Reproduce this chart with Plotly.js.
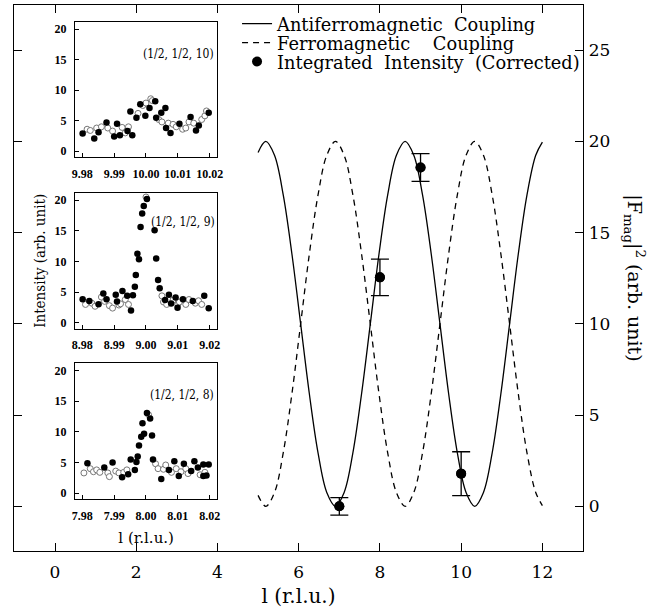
<!DOCTYPE html>
<html><head><meta charset="utf-8">
<script src="https://cdn.plot.ly/plotly-3.0.1.min.js"></script>
<style>html,body{margin:0;padding:0;background:#fff}</style>
</head><body><div id="chart" style="width:672px;height:612px"></div>
<script>
// ---- main panel: calculated |F_mag|^2 curves ----
const lCalc = [5.00,5.19,5.404,5.619,5.833,6.048,6.262,6.476,6.691,6.905,7.119,7.334,7.548,7.763,7.977,8.191,8.406,8.62,8.834,9.049,9.263,9.478,9.692,9.906,10.121,10.335,10.549,10.764,10.978,11.193,11.407,11.621,11.836,12.00];
const afmCalc = [19.40,20.0,19.24,17.07,13.83,10.0,6.17,2.93,0.76,0.0,0.76,2.93,6.17,10.0,13.83,17.07,19.24,20.0,19.24,17.07,13.83,10.0,6.17,2.93,0.76,0.0,0.76,2.93,6.17,10.0,13.83,17.07,19.24,19.96];
const fmCalc = [0.60,0.0,0.76,2.93,6.17,10.0,13.83,17.07,19.24,20.0,19.24,17.07,13.83,10.0,6.17,2.93,0.76,0.0,0.76,2.93,6.17,10.0,13.83,17.07,19.24,20.0,19.24,17.07,13.83,10.0,6.17,2.93,0.76,0.04];
// measured integrated intensities
const lMeas = [7, 8, 9, 10];
const intMeas = [0.0, 12.55, 18.57, 1.79];
const errMeas = [0.48, 1.0, 0.76, 1.2];
const mainXTicks = [0, 2, 4, 6, 8, 10, 12];
const mainYTicks = [0, 5, 10, 15, 20, 25];

// ---- inset (1/2,1/2,10) ----
const l10Fill = [9.9801,9.98375,9.9851,9.9876,9.9900,9.9909,9.9918,9.9942,9.9951,9.9957,9.9970,9.9982,9.9998,10.0011,10.0029,10.0032,10.0048,10.0061,10.0063,10.0077,10.0105,10.0140,10.0157,10.0166,10.0197];
const i10Fill = [2.9,2.1,3.1,4.7,2.4,4.5,2.6,3.3,6.5,2.6,5.5,7.7,5.8,7.1,8.2,5.5,6.3,7.1,3.8,3.0,4.5,5.6,3.4,4.2,6.3];
const l10Open = [9.9815,9.9825,9.9845,9.9860,9.9880,9.9895,9.9925,9.9935,9.9945,9.9975,9.9990,10.0000,10.0015,10.0020,10.0040,10.0050,10.0070,10.0085,10.0095,10.0115,10.0125,10.0135,10.0150,10.0175,10.0185,10.0190];
const i10Open = [3.6,3.4,3.8,4.0,3.8,3.3,3.9,3.0,4.0,6.2,7.5,7.9,8.6,8.3,5.2,4.8,4.6,4.4,4.0,3.6,3.8,4.8,4.6,5.2,5.8,6.6];
const x10Ticks = [9.98, 9.99, 10.00, 10.01, 10.02];
const x10Labels = ['9.98', '9.99', '10.00', '10.01', '10.02'];

// ---- inset (1/2,1/2,9) ----
const l9Fill = [8.9801,8.9822,8.9851,8.9866,8.9876,8.9905,8.9909,8.9926,8.9941,8.9953,8.9959,8.9965,8.9968,8.9973,8.9978,8.9983,8.9988,8.9993,9.0003,9.0027,9.0032,9.0038,9.0043,9.0060,9.0072,9.0079,9.0093,9.0099,9.0116,9.0147,9.0183,9.0197];
const i9Fill = [3.85,3.58,3.03,4.78,3.85,4.56,3.47,5.2,4.4,2.0,4.5,5.87,7.79,11.25,10.37,15.6,17.83,19.03,20.19,15.1,10.5,7.0,5.65,3.74,4.56,3.14,4.12,2.48,3.85,3.58,4.4,2.36];
const l9Open = [8.9810,8.9830,8.9840,8.9860,8.9870,8.9885,8.9895,8.9915,8.9920,8.9935,8.9945,9.0000,9.0050,9.0055,9.0065,9.0085,9.0100,9.0105,9.0125,9.0135,9.0155,9.0165,9.0175];
const i9Open = [3.0,3.2,2.7,4.2,3.5,2.8,2.4,2.9,3.1,3.8,3.0,20.5,4.4,3.4,3.0,3.7,3.0,3.4,3.0,3.8,3.2,3.6,3.0];
const x9Ticks = [8.98, 8.99, 9.00, 9.01, 9.02];
const x9Labels = ['8.98', '8.99', '9.00', '9.01', '9.02'];

// ---- inset (1/2,1/2,8) ----
const l8Fill = [7.9816,7.9869,7.9895,7.9925,7.9944,7.9952,7.9965,7.9970,7.9974,7.9978,7.9985,7.9989,7.9994,8.0003,8.0013,8.0019,8.0022,8.0048,8.0072,8.0089,8.0103,8.0119,8.0142,8.0152,8.0163,8.0180,8.0180,8.0190,8.0197];
const i8Fill = [4.9,4.2,5.0,2.6,3.1,5.5,3.8,5.1,6.0,7.8,9.2,11.4,9.7,13.1,12.2,9.4,5.5,2.3,3.8,5.2,2.8,4.8,3.6,5.2,4.2,2.8,4.7,2.9,4.7];
const l8Open = [7.9805,7.9825,7.9835,7.9845,7.9855,7.9880,7.9885,7.9905,7.9915,7.9930,7.9940,8.0008,8.0030,8.0038,8.0055,8.0062,8.0080,8.0095,8.0110,8.0125,8.0132,8.0170,8.0185];
const i8Open = [3.3,4.0,3.5,3.8,3.4,3.3,2.7,3.6,3.3,3.4,3.8,12.8,4.8,4.0,3.9,4.6,3.4,4.0,3.5,4.0,3.2,3.0,3.4];
const x8Ticks = [7.98, 7.99, 8.00, 8.01, 8.02];
const x8Labels = ['7.98', '7.99', '8.00', '8.01', '8.02'];
const insetYTicks = [0, 5, 10, 15, 20];

const serif = 'DejaVu Serif, serif';
const cond = 'DejaVu Serif Condensed, DejaVu Serif, serif';
const times = 'Liberation Serif, serif';
const black = '#000';
const nb = '\u00A0';

function fillTrace(x, y, xa, ya) {
  return {x: x, y: y, xaxis: xa, yaxis: ya, type: 'scatter', mode: 'markers', showlegend: false,
    marker: {symbol: 'circle', size: 6.5, color: black}, hoverinfo: 'skip'};
}
function openTrace(x, y, xa, ya) {
  return {x: x, y: y, xaxis: xa, yaxis: ya, type: 'scatter', mode: 'markers', showlegend: false,
    marker: {symbol: 'circle', size: 6, color: '#fff', line: {color: '#777', width: 1}}, hoverinfo: 'skip'};
}

const traces = [
  {x: lCalc, y: afmCalc, type: 'scatter', mode: 'lines', name: 'Antiferromagnetic' + nb + nb + 'Coupling',
   legend: 'legend', line: {color: black, width: 1.3, shape: 'spline', smoothing: 1}, xaxis: 'x', yaxis: 'y'},
  {x: lCalc, y: fmCalc, type: 'scatter', mode: 'lines', name: 'Ferromagnetic' + nb + nb + nb + nb + 'Coupling',
   legend: 'legend2', line: {color: black, width: 1.3, dash: '6px,5px', shape: 'spline', smoothing: 1}, xaxis: 'x', yaxis: 'y'},
  {x: lMeas, y: intMeas, type: 'scatter', mode: 'markers', showlegend: false,
   marker: {symbol: 'circle', size: 10, color: black},
   error_y: {type: 'data', array: errMeas, visible: true, color: black, thickness: 1.3, width: 9},
   xaxis: 'x', yaxis: 'y'},
  {x: lMeas, y: intMeas, type: 'scatter', mode: 'markers', name: 'Integrated' + nb + ' Intensity' + nb + ' (Corrected)',
   legend: 'legend3', marker: {symbol: 'circle', size: 10, color: black}, xaxis: 'x', yaxis: 'y'},
  openTrace(l10Open, i10Open, 'x2', 'y2'), fillTrace(l10Fill, i10Fill, 'x2', 'y2'),
  openTrace(l9Open, i9Open, 'x3', 'y3'), fillTrace(l9Fill, i9Fill, 'x3', 'y3'),
  openTrace(l8Open, i8Open, 'x4', 'y4'), fillTrace(l8Fill, i8Fill, 'x4', 'y4')
];

const mainTickFont = {family: serif, size: 17, color: black};
const insetTickFont = {family: times, size: 12, color: black, weight: 'bold'};

function insetX(dom, anchor, range, vals, labels, title) {
  const a = {domain: dom, anchor: anchor, range: range, tickvals: vals, ticktext: labels, tickangle: 0,
    ticks: 'inside', ticklen: 4, tickwidth: 1, tickcolor: black, showline: true, linecolor: black, linewidth: 1,
    mirror: true, showgrid: false, zeroline: false, tickfont: insetTickFont, ticklabelstandoff: 5};
  if (title) a.title = {text: title, font: {family: serif, size: 15, color: black}, standoff: 10};
  return a;
}
function insetY(dom, anchor, title) {
  const a = {domain: dom, anchor: anchor, range: [-1.0, 21.2], tickvals: insetYTicks,
    ticks: 'inside', ticklen: 4, tickwidth: 1, tickcolor: black, showline: true, linecolor: black, linewidth: 1,
    mirror: true, showgrid: false, zeroline: false, tickfont: insetTickFont, ticklabelstandoff: 5};
  if (title) a.title = {text: title, font: {family: cond, size: 15, color: black}, standoff: 5};
  return a;
}

function legendBox(yc) {
  return {x: 0.392, y: yc, xanchor: 'left', yanchor: 'middle', bgcolor: 'rgba(0,0,0,0)',
    font: {family: serif, size: 17.8, color: black}, tracegroupgap: 0};
}

const xd = [0.1072, 0.3573];
const layout = {
  width: 672, height: 612,
  margin: {l: 14, r: 89, t: 5, b: 61},
  paper_bgcolor: '#fff', plot_bgcolor: '#fff',
  showlegend: true,
  legend: legendBox(0.9652),
  legend2: legendBox(0.9304),
  legend3: legendBox(0.8956),
  xaxis: {domain: [0, 1], anchor: 'y', range: [-1.01, 13.0], tickvals: mainXTicks,
    ticks: 'inside', ticklen: 8, tickwidth: 1, tickcolor: black, showline: true, linecolor: black, linewidth: 1.3,
    mirror: 'ticks', showgrid: false, zeroline: false, tickfont: mainTickFont, ticklabelstandoff: 5,
    title: {text: 'l (r.l.u.)', font: {family: serif, size: 20, color: black}, standoff: 8}},
  yaxis: {domain: [0, 1], anchor: 'x', side: 'right', range: [-2.45, 27.48], tickvals: mainYTicks,
    ticks: 'inside', ticklen: 8, tickwidth: 1, tickcolor: black, showline: true, linecolor: black, linewidth: 1.3,
    mirror: 'ticks', showgrid: false, zeroline: false, tickfont: mainTickFont, ticklabelstandoff: 1},
  xaxis2: insetX(xd, 'y2', [9.9777, 10.0224], x10Ticks, x10Labels),
  yaxis2: insetY([0.7211, 0.9689], 'x2'),
  xaxis3: insetX(xd, 'y3', [8.9777, 9.0224], x9Ticks, x9Labels),
  yaxis3: insetY([0.4066, 0.6562], 'x3', 'Intensity (arb. unit)'),
  xaxis4: insetX(xd, 'y4', [7.9777, 8.0224], x8Ticks, x8Labels, 'l (r.l.u.)'),
  yaxis4: insetY([0.0947, 0.3438], 'x4'),
  annotations: [
    {text: '|F<sub>mag</sub>|<sup>2</sup> (arb. unit)', xref: 'paper', yref: 'paper', x: 1.118, y: 0.5,
     textangle: 90, showarrow: false, font: {family: serif, size: 19, color: black}},
    {text: '(1/2, 1/2, 10)', xref: 'x2 domain', yref: 'y2 domain', x: 0.99, y: 0.83, xanchor: 'right',
     showarrow: false, font: {family: cond, size: 12, color: black}},
    {text: '(1/2, 1/2, 9)', xref: 'x3 domain', yref: 'y3 domain', x: 0.995, y: 0.85, xanchor: 'right',
     showarrow: false, font: {family: cond, size: 12, color: black}},
    {text: '(1/2, 1/2, 8)', xref: 'x4 domain', yref: 'y4 domain', x: 0.99, y: 0.83, xanchor: 'right',
     showarrow: false, font: {family: cond, size: 12, color: black}}
  ]
};

Plotly.newPlot('chart', traces, layout, {displayModeBar: false, staticPlot: true});
</script>
</body></html>
